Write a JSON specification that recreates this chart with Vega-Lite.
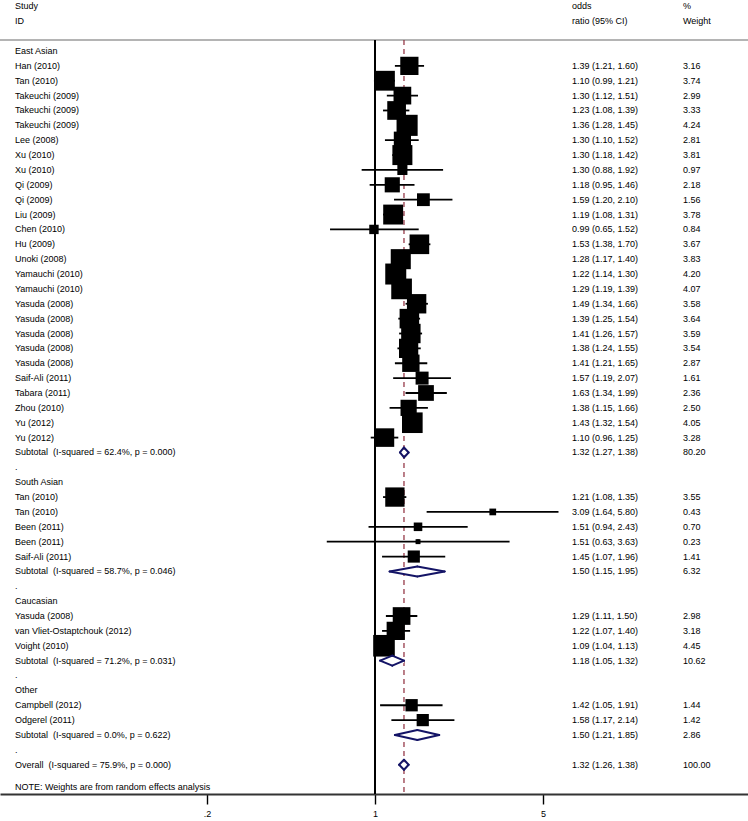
{
  "$schema": "https://vega.github.io/schema/vega-lite/v6.json",
  "width": 748,
  "height": 794,
  "autosize": {"type": "none"},
  "padding": {"left": 0, "top": 0, "right": 0, "bottom": 27},
  "background": "white",
  "config": {
    "view": {"stroke": null},
    "text": {"font": "Liberation Sans", "fontSize": 9, "baseline": "middle", "align": "left", "color": "#000000"}
  },
  "data": {
    "values": [
      {"row": -3, "type": "header", "label": "Study", "ortext": "odds", "wtext": "%"},
      {"row": -2, "type": "header", "label": "ID", "ortext": "ratio (95% CI)", "wtext": "Weight"},
      {"row": 0, "type": "group", "label": "East Asian"},
      {"row": 1, "type": "study", "label": "Han (2010)", "or": 1.39, "lo": 1.21, "hi": 1.60, "w": 3.16, "ortext": "1.39 (1.21, 1.60)", "wtext": "3.16"},
      {"row": 2, "type": "study", "label": "Tan (2010)", "or": 1.10, "lo": 0.99, "hi": 1.21, "w": 3.74, "ortext": "1.10 (0.99, 1.21)", "wtext": "3.74"},
      {"row": 3, "type": "study", "label": "Takeuchi (2009)", "or": 1.30, "lo": 1.12, "hi": 1.51, "w": 2.99, "ortext": "1.30 (1.12, 1.51)", "wtext": "2.99"},
      {"row": 4, "type": "study", "label": "Takeuchi (2009)", "or": 1.23, "lo": 1.08, "hi": 1.39, "w": 3.33, "ortext": "1.23 (1.08, 1.39)", "wtext": "3.33"},
      {"row": 5, "type": "study", "label": "Takeuchi (2009)", "or": 1.36, "lo": 1.28, "hi": 1.45, "w": 4.24, "ortext": "1.36 (1.28, 1.45)", "wtext": "4.24"},
      {"row": 6, "type": "study", "label": "Lee (2008)", "or": 1.30, "lo": 1.10, "hi": 1.52, "w": 2.81, "ortext": "1.30 (1.10, 1.52)", "wtext": "2.81"},
      {"row": 7, "type": "study", "label": "Xu (2010)", "or": 1.30, "lo": 1.18, "hi": 1.42, "w": 3.81, "ortext": "1.30 (1.18, 1.42)", "wtext": "3.81"},
      {"row": 8, "type": "study", "label": "Xu (2010)", "or": 1.30, "lo": 0.88, "hi": 1.92, "w": 0.97, "ortext": "1.30 (0.88, 1.92)", "wtext": "0.97"},
      {"row": 9, "type": "study", "label": "Qi (2009)", "or": 1.18, "lo": 0.95, "hi": 1.46, "w": 2.18, "ortext": "1.18 (0.95, 1.46)", "wtext": "2.18"},
      {"row": 10, "type": "study", "label": "Qi (2009)", "or": 1.59, "lo": 1.20, "hi": 2.10, "w": 1.56, "ortext": "1.59 (1.20, 2.10)", "wtext": "1.56"},
      {"row": 11, "type": "study", "label": "Liu (2009)", "or": 1.19, "lo": 1.08, "hi": 1.31, "w": 3.78, "ortext": "1.19 (1.08, 1.31)", "wtext": "3.78"},
      {"row": 12, "type": "study", "label": "Chen (2010)", "or": 0.99, "lo": 0.65, "hi": 1.52, "w": 0.84, "ortext": "0.99 (0.65, 1.52)", "wtext": "0.84"},
      {"row": 13, "type": "study", "label": "Hu (2009)", "or": 1.53, "lo": 1.38, "hi": 1.70, "w": 3.67, "ortext": "1.53 (1.38, 1.70)", "wtext": "3.67"},
      {"row": 14, "type": "study", "label": "Unoki (2008)", "or": 1.28, "lo": 1.17, "hi": 1.40, "w": 3.83, "ortext": "1.28 (1.17, 1.40)", "wtext": "3.83"},
      {"row": 15, "type": "study", "label": "Yamauchi (2010)", "or": 1.22, "lo": 1.14, "hi": 1.30, "w": 4.20, "ortext": "1.22 (1.14, 1.30)", "wtext": "4.20"},
      {"row": 16, "type": "study", "label": "Yamauchi (2010)", "or": 1.29, "lo": 1.19, "hi": 1.39, "w": 4.07, "ortext": "1.29 (1.19, 1.39)", "wtext": "4.07"},
      {"row": 17, "type": "study", "label": "Yasuda (2008)", "or": 1.49, "lo": 1.34, "hi": 1.66, "w": 3.58, "ortext": "1.49 (1.34, 1.66)", "wtext": "3.58"},
      {"row": 18, "type": "study", "label": "Yasuda (2008)", "or": 1.39, "lo": 1.25, "hi": 1.54, "w": 3.64, "ortext": "1.39 (1.25, 1.54)", "wtext": "3.64"},
      {"row": 19, "type": "study", "label": "Yasuda (2008)", "or": 1.41, "lo": 1.26, "hi": 1.57, "w": 3.59, "ortext": "1.41 (1.26, 1.57)", "wtext": "3.59"},
      {"row": 20, "type": "study", "label": "Yasuda (2008)", "or": 1.38, "lo": 1.24, "hi": 1.55, "w": 3.54, "ortext": "1.38 (1.24, 1.55)", "wtext": "3.54"},
      {"row": 21, "type": "study", "label": "Yasuda (2008)", "or": 1.41, "lo": 1.21, "hi": 1.65, "w": 2.87, "ortext": "1.41 (1.21, 1.65)", "wtext": "2.87"},
      {"row": 22, "type": "study", "label": "Saif-Ali (2011)", "or": 1.57, "lo": 1.19, "hi": 2.07, "w": 1.61, "ortext": "1.57 (1.19, 2.07)", "wtext": "1.61"},
      {"row": 23, "type": "study", "label": "Tabara (2011)", "or": 1.63, "lo": 1.34, "hi": 1.99, "w": 2.36, "ortext": "1.63 (1.34, 1.99)", "wtext": "2.36"},
      {"row": 24, "type": "study", "label": "Zhou (2010)", "or": 1.38, "lo": 1.15, "hi": 1.66, "w": 2.50, "ortext": "1.38 (1.15, 1.66)", "wtext": "2.50"},
      {"row": 25, "type": "study", "label": "Yu (2012)", "or": 1.43, "lo": 1.32, "hi": 1.54, "w": 4.05, "ortext": "1.43 (1.32, 1.54)", "wtext": "4.05"},
      {"row": 26, "type": "study", "label": "Yu (2012)", "or": 1.10, "lo": 0.96, "hi": 1.25, "w": 3.28, "ortext": "1.10 (0.96, 1.25)", "wtext": "3.28"},
      {"row": 27, "type": "sub", "label": "Subtotal\u00a0 (I-squared = 62.4%, p = 0.000)", "or": 1.32, "lo": 1.27, "hi": 1.38, "ortext": "1.32 (1.27, 1.38)", "wtext": "80.20"},
      {"row": 28, "type": "dot", "label": "."},
      {"row": 29, "type": "group", "label": "South Asian"},
      {"row": 30, "type": "study", "label": "Tan (2010)", "or": 1.21, "lo": 1.08, "hi": 1.35, "w": 3.55, "ortext": "1.21 (1.08, 1.35)", "wtext": "3.55"},
      {"row": 31, "type": "study", "label": "Tan (2010)", "or": 3.09, "lo": 1.64, "hi": 5.80, "w": 0.43, "ortext": "3.09 (1.64, 5.80)", "wtext": "0.43"},
      {"row": 32, "type": "study", "label": "Been (2011)", "or": 1.51, "lo": 0.94, "hi": 2.43, "w": 0.70, "ortext": "1.51 (0.94, 2.43)", "wtext": "0.70"},
      {"row": 33, "type": "study", "label": "Been (2011)", "or": 1.51, "lo": 0.63, "hi": 3.63, "w": 0.23, "ortext": "1.51 (0.63, 3.63)", "wtext": "0.23"},
      {"row": 34, "type": "study", "label": "Saif-Ali (2011)", "or": 1.45, "lo": 1.07, "hi": 1.96, "w": 1.41, "ortext": "1.45 (1.07, 1.96)", "wtext": "1.41"},
      {"row": 35, "type": "sub", "label": "Subtotal\u00a0 (I-squared = 58.7%, p = 0.046)", "or": 1.50, "lo": 1.15, "hi": 1.95, "ortext": "1.50 (1.15, 1.95)", "wtext": "6.32"},
      {"row": 36, "type": "dot", "label": "."},
      {"row": 37, "type": "group", "label": "Caucasian"},
      {"row": 38, "type": "study", "label": "Yasuda (2008)", "or": 1.29, "lo": 1.11, "hi": 1.50, "w": 2.98, "ortext": "1.29 (1.11, 1.50)", "wtext": "2.98"},
      {"row": 39, "type": "study", "label": "van Vliet-Ostaptchouk (2012)", "or": 1.22, "lo": 1.07, "hi": 1.40, "w": 3.18, "ortext": "1.22 (1.07, 1.40)", "wtext": "3.18"},
      {"row": 40, "type": "study", "label": "Voight (2010)", "or": 1.09, "lo": 1.04, "hi": 1.13, "w": 4.45, "ortext": "1.09 (1.04, 1.13)", "wtext": "4.45"},
      {"row": 41, "type": "sub", "label": "Subtotal\u00a0 (I-squared = 71.2%, p = 0.031)", "or": 1.18, "lo": 1.05, "hi": 1.32, "ortext": "1.18 (1.05, 1.32)", "wtext": "10.62"},
      {"row": 42, "type": "dot", "label": "."},
      {"row": 43, "type": "group", "label": "Other"},
      {"row": 44, "type": "study", "label": "Campbell (2012)", "or": 1.42, "lo": 1.05, "hi": 1.91, "w": 1.44, "ortext": "1.42 (1.05, 1.91)", "wtext": "1.44"},
      {"row": 45, "type": "study", "label": "Odgerel (2011)", "or": 1.58, "lo": 1.17, "hi": 2.14, "w": 1.42, "ortext": "1.58 (1.17, 2.14)", "wtext": "1.42"},
      {"row": 46, "type": "sub", "label": "Subtotal\u00a0 (I-squared = 0.0%, p = 0.622)", "or": 1.50, "lo": 1.21, "hi": 1.85, "ortext": "1.50 (1.21, 1.85)", "wtext": "2.86"},
      {"row": 47, "type": "dot", "label": "."},
      {"row": 48, "type": "overall", "label": "Overall\u00a0 (I-squared = 75.9%, p = 0.000)", "or": 1.32, "lo": 1.26, "hi": 1.38, "ortext": "1.32 (1.26, 1.38)", "wtext": "100.00"},
      {"row": 49.47, "type": "note", "label": "NOTE: Weights are from random effects analysis"}
    ]
  },
  "encoding": {
    "y": {"field": "row", "type": "quantitative", "scale": {"domain": [-3.43, 49.97], "reverse": true, "nice": false, "zero": false}, "axis": null}
  },
  "layer": [
    {
      "mark": {"type": "rule", "color": "#b4b4b4", "strokeWidth": 1.2},
      "encoding": {"y": {"datum": -0.74}}
    },
    {
      "mark": {"type": "rule", "color": "#000000", "strokeWidth": 1.4},
      "encoding": {
        "x": {"datum": 1, "type": "quantitative", "scale": {"type": "log", "domain": [0.02753, 35.635], "nice": false}, "axis": {"values": [0.2, 1, 5], "labelExpr": "datum.value == 0.2 ? '.2' : datum.value == 1 ? '1' : '5'", "title": null, "grid": false, "domainColor": "#333333", "domainWidth": 2, "tickColor": "#000000", "tickSize": 10, "tickWidth": 1.4, "labelFont": "Liberation Sans", "labelFontSize": 9, "labelColor": "#000000", "labelPadding": 5}},
        "y": {"datum": -0.74},
        "y2": {"datum": 49.97}
      }
    },
    {
      "transform": [{"filter": "datum.type == 'overall'"}],
      "mark": {"type": "rule", "color": "#8e2a3a", "strokeWidth": 1.2, "strokeDash": [5, 4]},
      "encoding": {
        "x": {"field": "or", "type": "quantitative"},
        "y": {"datum": -0.74},
        "y2": {"datum": 49.97}
      }
    },
    {
      "transform": [{"filter": "datum.type == 'study'"}],
      "mark": {"type": "rule", "color": "#000000", "strokeWidth": 1.8},
      "encoding": {
        "x": {"field": "lo", "type": "quantitative"},
        "x2": {"field": "hi"}
      }
    },
    {
      "transform": [{"filter": "datum.type == 'study'"}],
      "mark": {"type": "point", "shape": "square", "filled": true, "color": "#000000", "opacity": 1},
      "encoding": {
        "x": {"field": "or", "type": "quantitative"},
        "size": {"field": "w", "type": "quantitative", "scale": {"type": "linear", "domain": [0, 10], "range": [0, 1050], "zero": true}, "legend": null}
      }
    },
    {
      "transform": [{"filter": "datum.type == 'study'"}],
      "mark": {"type": "point", "shape": "circle", "filled": true, "color": "#000000", "opacity": 1, "size": 22},
      "encoding": {
        "x": {"field": "or", "type": "quantitative"}
      }
    },
    {
      "transform": [{"filter": "datum.type == 'sub' || datum.type == 'overall'"}],
      "mark": {"type": "rect", "color": "#ffffff", "yOffset": -2.5, "y2Offset": 2.5},
      "encoding": {
        "x": {"field": "lo", "type": "quantitative"},
        "x2": {"field": "hi"},
        "y2": {"field": "row"}
      }
    },
    {
      "transform": [{"filter": "datum.type == 'sub' || datum.type == 'overall'"}],
      "mark": {"type": "rule", "color": "#141466", "strokeWidth": 2, "strokeCap": "round", "y2Offset": -5},
      "encoding": {
        "x": {"field": "lo", "type": "quantitative"},
        "x2": {"field": "or"},
        "y2": {"field": "row"}
      }
    },
    {
      "transform": [{"filter": "datum.type == 'sub' || datum.type == 'overall'"}],
      "mark": {"type": "rule", "color": "#141466", "strokeWidth": 2, "strokeCap": "round", "y2Offset": 5},
      "encoding": {
        "x": {"field": "lo", "type": "quantitative"},
        "x2": {"field": "or"},
        "y2": {"field": "row"}
      }
    },
    {
      "transform": [{"filter": "datum.type == 'sub' || datum.type == 'overall'"}],
      "mark": {"type": "rule", "color": "#141466", "strokeWidth": 2, "strokeCap": "round", "yOffset": -5},
      "encoding": {
        "x": {"field": "or", "type": "quantitative"},
        "x2": {"field": "hi"},
        "y2": {"field": "row"}
      }
    },
    {
      "transform": [{"filter": "datum.type == 'sub' || datum.type == 'overall'"}],
      "mark": {"type": "rule", "color": "#141466", "strokeWidth": 2, "strokeCap": "round", "yOffset": 5},
      "encoding": {
        "x": {"field": "or", "type": "quantitative"},
        "x2": {"field": "hi"},
        "y2": {"field": "row"}
      }
    },
    {
      "mark": {"type": "text"},
      "encoding": {
        "x": {"datum": 0.031783},
        "text": {"field": "label"}
      }
    },
    {
      "transform": [{"filter": "isValid(datum.ortext)"}],
      "mark": {"type": "text"},
      "encoding": {
        "x": {"datum": 6.6011},
        "text": {"field": "ortext"}
      }
    },
    {
      "transform": [{"filter": "isValid(datum.wtext)"}],
      "mark": {"type": "text"},
      "encoding": {
        "x": {"datum": 19.117},
        "text": {"field": "wtext"}
      }
    }
  ]
}
